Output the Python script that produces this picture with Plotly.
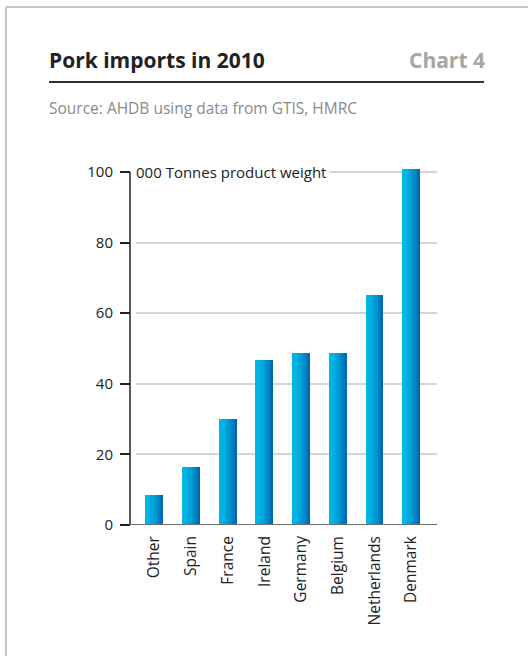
import plotly.graph_objects as go

# Pork imports by source country, 2010 (000 tonnes product weight)
countries = ["Other", "Spain", "France", "Ireland", "Germany", "Belgium", "Netherlands", "Denmark"]
tonnes = [8.5, 16.2, 30.0, 46.7, 48.7, 48.7, 64.9, 100.6]
y_ticks = [0, 20, 40, 60, 80, 100]

W, H = 528, 656
FONT = "Open Sans"

# plot area in pixels
x_left, x_right = 136, 437
y_zero, px_per_unit = 525, 3.53
y_max = 101.0
y_top = y_zero - px_per_unit * y_max

fig = go.Figure()

# bars with a horizontal blue gradient, built from thin slices
bar_w = 0.467
n_slices = 14
c0 = (0, 184, 230)
c1 = (0, 100, 176)
for i in range(n_slices):
    t = (i + 0.5) / n_slices
    k = t ** 1.8
    col = "rgb({},{},{})".format(*[round(a + (b - a) * k) for a, b in zip(c0, c1)])
    fig.add_trace(go.Bar(
        x=countries, y=tonnes,
        width=bar_w / n_slices * 1.08,
        offset=-bar_w / 2 + i * bar_w / n_slices,
        marker=dict(color=col, line=dict(width=0)),
        hoverinfo="skip", showlegend=False,
    ))

fig.update_layout(
    width=W, height=H,
    margin=dict(l=0, r=0, t=0, b=0),
    paper_bgcolor="white", plot_bgcolor="white",
    barmode="overlay", bargap=0,
    showlegend=False,
    font=dict(family=FONT, color="#222222", size=14),
    xaxis=dict(
        domain=[x_left / W, x_right / W],
        range=[-0.5, 7.7],
        showgrid=False, zeroline=False, showline=False,
        ticks="", tickangle=-90,
        tickfont=dict(family=FONT, size=15.5, color="#222222"),
        ticklabelstandoff=7,
        automargin=False,
        fixedrange=True,
    ),
    yaxis=dict(
        domain=[(H - y_zero) / H, (H - y_top) / H],
        range=[0, y_max],
        anchor="free", position=130 / W,
        tickvals=y_ticks,
        ticks="outside", ticklen=10, tickwidth=1.5, tickcolor="#222222",
        ticklabelstandoff=4,
        showgrid=True, gridcolor="#d4d4d4", gridwidth=1.5,
        zeroline=False, showline=False,
        tickfont=dict(family=FONT, size=15, color="#222222"),
        automargin=False,
        fixedrange=True,
    ),
)

shapes = [
    # frame lines (top and left)
    dict(type="line", xref="paper", yref="paper", x0=6 / W, x1=1, y0=1 - 7 / H, y1=1 - 7 / H,
         line=dict(color="#c8c8c8", width=2)),
    dict(type="line", xref="paper", yref="paper", x0=6 / W, x1=6 / W, y0=0, y1=1 - 7 / H,
         line=dict(color="#c8c8c8", width=2)),
    # rule under the heading
    dict(type="line", xref="paper", yref="paper", x0=49 / W, x1=484 / W, y0=1 - 82 / H, y1=1 - 82 / H,
         line=dict(color="#333333", width=2)),
    # vertical value axis
    dict(type="line", xref="paper", yref="y", x0=130 / W, x1=130 / W, y0=0, y1=100,
         line=dict(color="#222222", width=1.5)),
    # baseline
    dict(type="line", xref="paper", yref="y", x0=130 / W, x1=x_right / W, y0=0, y1=0,
         line=dict(color="#6e6e6e", width=2)),
]
fig.update_layout(shapes=shapes)

annotations = [
    dict(text="<b>Pork imports in 2010</b>", xref="paper", yref="paper",
         x=47 / W, y=1 - 44 / H, xanchor="left", yanchor="top", showarrow=False,
         font=dict(family=FONT, size=21, color="#222222")),
    dict(text="<b>Chart 4</b>", xref="paper", yref="paper",
         x=487 / W, y=1 - 44 / H, xanchor="right", yanchor="top", showarrow=False,
         font=dict(family=FONT, size=21, color="#a6a6a6")),
    dict(text="Source: AHDB using data from GTIS, HMRC", xref="paper", yref="paper",
         x=47 / W, y=1 - 95 / H, xanchor="left", yanchor="top", showarrow=False,
         font=dict(family=FONT, size=15.5, color="#8a8a8a")),
    dict(text="000 Tonnes product weight", xref="paper", yref="y",
         x=132 / W, y=100, xanchor="left", yanchor="middle", showarrow=False,
         bgcolor="white", borderpad=3,
         font=dict(family=FONT, size=15, color="#222222")),
]
fig.update_layout(annotations=annotations)

fig.write_html("out.html")
